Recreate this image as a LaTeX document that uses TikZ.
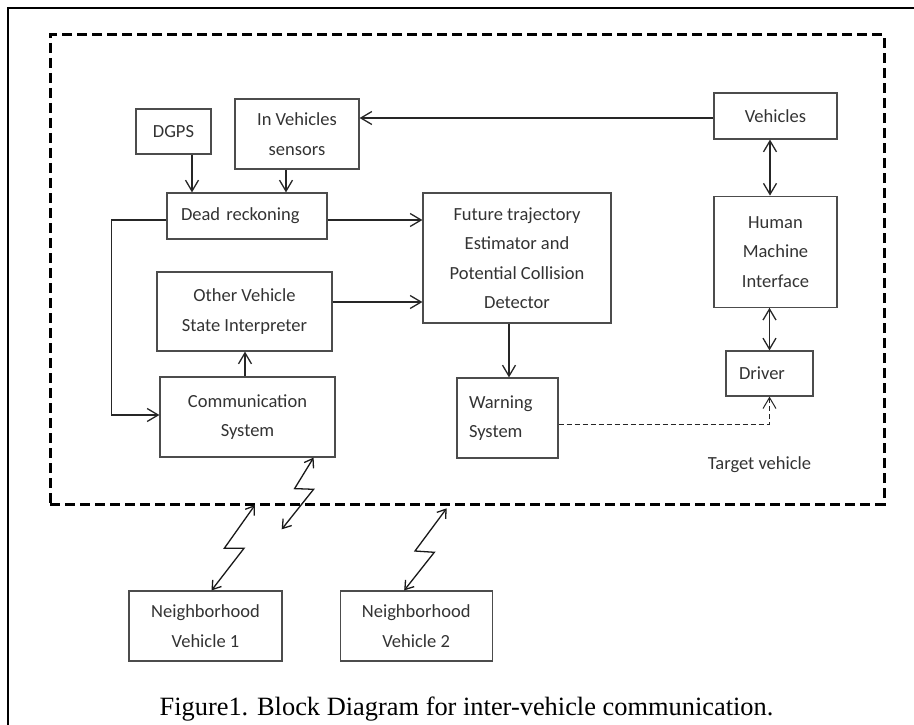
\documentclass[tikz,border=0pt]{standalone}
\usepackage{fontspec}
\usetikzlibrary{positioning}
\usetikzlibrary{arrows.meta}
\newfontfamily\blockfont{Carlito}
\newfontfamily\capfont{Liberation Serif}
\tikzset{
        block/.style={
          draw=black!70, line width=1.2pt, text=black!80, inner sep=0pt,
          align=center, font=\blockfont\fontsize{18.5}{29.5}\selectfont
          },
        link/.style={line width=1.3pt, draw=black!85, -{Straight Barb[length=11pt, width=13pt]}},
        twolink/.style={link, {Straight Barb[length=11pt, width=13pt]}-{Straight Barb[length=11pt, width=13pt]}},
        zap/.style={line width=1.3pt, draw=black!90, {Straight Barb[length=8pt, width=11pt]}-{Straight Barb[length=8pt, width=11pt]}},
        vehicle frame/.style={draw, line width=3pt, dash pattern=on 10pt off 5pt, inner sep=0pt},
}
\begin{document}
\begin{tikzpicture}[x=1pt, y=-1pt]
      \useasboundingbox (0,0) rectangle (914,725);
      % page frame
      \draw[line width=2pt] (8,725) -- (8,8) -- (914,8);

      % TARGET VEHICLE
      \node[vehicle frame, minimum width=834pt, minimum height=469pt] (target) at (467,269.5) {};
      \node[font=\blockfont\fontsize{18.5}{22}\selectfont, text=black!80] (targetlabel) at (759.5,465) {Target vehicle};

      % SENSING AND COMMUNICATION
      \node[block, minimum width=75pt, minimum height=45pt] (dgps) at (173.5,131.5) {DGPS};
      \node[block, minimum width=124pt, minimum height=70pt] (sensors) at (297,134) {In Vehicles\\sensors};
      \node[block, minimum width=160pt, minimum height=46pt, text width=132pt, align=left] (dead) at (247,216) {Dead reckoning};
      \node[block, minimum width=175pt, minimum height=79pt] (other) at (244.5,311.5) {Other Vehicle\\State Interpreter};
      \node[block, minimum width=175pt, minimum height=80pt] (comm) at (247.5,417) {Communication\\System};

      % ESTIMATION AND WARNING
      \node[block, minimum width=188pt, minimum height=130pt] (future) at (517,258) {Future trajectory\\Estimator and\\Potential Collision\\Detector};
      \node[block, minimum width=101pt, minimum height=80pt, text width=77pt, align=left] (warning) at (507.5,418) {Warning\\System};

      % DRIVER SIDE
      \node[block, minimum width=123pt, minimum height=46pt] (vehicles) at (775.5,116) {Vehicles};
      \node[block, minimum width=123pt, minimum height=111pt, below=56pt of vehicles] (hmi) {Human\\Machine\\Interface};
      \node[block, minimum width=87pt, minimum height=45pt, text width=61pt, align=left] (driver) at (769.5,373.5) {Driver};

      % NEIGHBOURS
      \node[block, minimum width=153pt, minimum height=70pt] (hoodone) at (205.5,626) {Neighborhood\\Vehicle 1};
      \node[block, minimum width=152pt, minimum height=70pt, right=57pt of hoodone] (hoodtwo) {Neighborhood\\Vehicle 2};

      % WIRING
      \draw[link] ([xshift=18.5pt]dgps.south) -- ([xshift=18.5pt]dgps.south |- dead.north);
      \draw[link] ([xshift=-11pt]sensors.south) -- ([xshift=-11pt]sensors.south |- dead.north);
      \draw[link] ([yshift=-2pt]vehicles.west) -- ([yshift=-2pt]vehicles.west -| sensors.east);
      \draw[link] ([yshift=-4pt]dead.east) -- ([yshift=-4pt]dead.east -| future.west);
      \draw[link] ([yshift=9.5pt]other.east) -- ([yshift=9.5pt]other.east -| future.west);
      \draw[link] ([yshift=-4pt]dead.west) -- ++(-55,0) |- ([yshift=2pt]comm.west);
      \draw[link] ([xshift=-2.5pt]comm.north) -- ([xshift=-2.5pt]comm.north |- other.south);
      \draw[link] ([xshift=-8pt]future.south) -- ([xshift=-8pt]future.south |- warning.north);
      \draw[twolink] ([xshift=-5.5pt]vehicles.south) -- ([xshift=-5.5pt]hmi.north);
      \draw[twolink] (driver.north |- hmi.south) -- (driver.north);
      \draw[link, line width=1pt, dash pattern=on 5pt off 3pt] ([yshift=-6pt]warning.east) -| (driver.south);

      % RADIO LINKS
      \coordinate (commair) at (281.7,529.3);
      \coordinate (hoodoneair) at (255,505);
      \coordinate (hoodtwoair) at (446.7,508.3);
      \draw[zap] ([xshift=-22pt]comm.south east) -- ++(-19,31) -- ++(19,0.7) -- (commair);
      \draw[zap] (hoodoneair) -- ++(-30.7,43.3) -- ++(19.7,0) -- ([xshift=6pt]hoodone.north);
      \draw[zap] (hoodtwoair) -- ++(-31.7,42.7) -- ++(19.3,1.3) -- ([xshift=-12pt]hoodtwo.north);

      % caption
      \node[font=\capfont\fontsize{26.4}{30}\selectfont] (caption) at (466.5,709) {Figure1. Block Diagram for inter-vehicle communication.};
\end{tikzpicture}
\end{document}
